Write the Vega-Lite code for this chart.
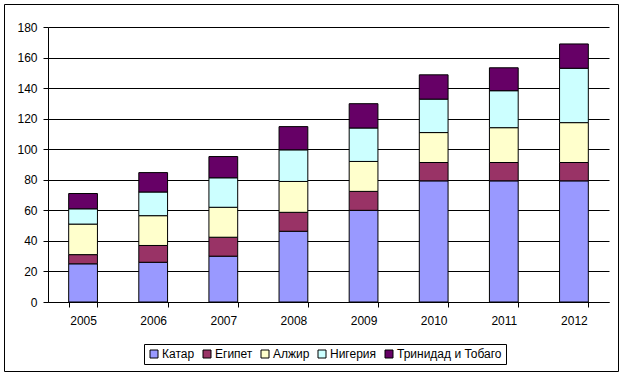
{
  "$schema": "https://vega.github.io/schema/vega-lite/v6.json",
  "width": 614,
  "height": 367,
  "autosize": "none",
  "padding": {"left": 4, "top": 4, "right": 2, "bottom": 7},
  "background": "white",
  "config": {
    "view": {"stroke": "black", "strokeWidth": 1},
    "font": "Liberation Sans"
  },
  "data": {
    "values": [
      {"year": "2005", "n": 1, "country": "Катар", "value": 25},
      {"year": "2005", "n": 2, "country": "Египет", "value": 6},
      {"year": "2005", "n": 3, "country": "Алжир", "value": 20},
      {"year": "2005", "n": 4, "country": "Нигерия", "value": 10},
      {"year": "2005", "n": 5, "country": "Тринидад и Тобаго", "value": 10},
      {"year": "2006", "n": 1, "country": "Катар", "value": 26},
      {"year": "2006", "n": 2, "country": "Египет", "value": 11},
      {"year": "2006", "n": 3, "country": "Алжир", "value": 19.5},
      {"year": "2006", "n": 4, "country": "Нигерия", "value": 15.5},
      {"year": "2006", "n": 5, "country": "Тринидад и Тобаго", "value": 12.7},
      {"year": "2007", "n": 1, "country": "Катар", "value": 30},
      {"year": "2007", "n": 2, "country": "Египет", "value": 12.4},
      {"year": "2007", "n": 3, "country": "Алжир", "value": 19.6},
      {"year": "2007", "n": 4, "country": "Нигерия", "value": 19.3},
      {"year": "2007", "n": 5, "country": "Тринидад и Тобаго", "value": 13.9},
      {"year": "2008", "n": 1, "country": "Катар", "value": 46.3},
      {"year": "2008", "n": 2, "country": "Египет", "value": 12.4},
      {"year": "2008", "n": 3, "country": "Алжир", "value": 20.2},
      {"year": "2008", "n": 4, "country": "Нигерия", "value": 20.7},
      {"year": "2008", "n": 5, "country": "Тринидад и Тобаго", "value": 15.2},
      {"year": "2009", "n": 1, "country": "Катар", "value": 60},
      {"year": "2009", "n": 2, "country": "Египет", "value": 12.4},
      {"year": "2009", "n": 3, "country": "Алжир", "value": 19.6},
      {"year": "2009", "n": 4, "country": "Нигерия", "value": 21.9},
      {"year": "2009", "n": 5, "country": "Тринидад и Тобаго", "value": 15.9},
      {"year": "2010", "n": 1, "country": "Катар", "value": 79.3},
      {"year": "2010", "n": 2, "country": "Египет", "value": 12},
      {"year": "2010", "n": 3, "country": "Алжир", "value": 19.6},
      {"year": "2010", "n": 4, "country": "Нигерия", "value": 21.9},
      {"year": "2010", "n": 5, "country": "Тринидад и Тобаго", "value": 15.9},
      {"year": "2011", "n": 1, "country": "Катар", "value": 79.3},
      {"year": "2011", "n": 2, "country": "Египет", "value": 12},
      {"year": "2011", "n": 3, "country": "Алжир", "value": 22.8},
      {"year": "2011", "n": 4, "country": "Нигерия", "value": 24.2},
      {"year": "2011", "n": 5, "country": "Тринидад и Тобаго", "value": 15},
      {"year": "2012", "n": 1, "country": "Катар", "value": 79.3},
      {"year": "2012", "n": 2, "country": "Египет", "value": 12},
      {"year": "2012", "n": 3, "country": "Алжир", "value": 26.1},
      {"year": "2012", "n": 4, "country": "Нигерия", "value": 35.6},
      {"year": "2012", "n": 5, "country": "Тринидад и Тобаго", "value": 15.9}
    ]
  },
  "mark": {"type": "bar", "stroke": "black", "strokeWidth": 1},
  "encoding": {
    "x": {
      "field": "year",
      "type": "ordinal",
      "scale": {"range": [44, 605], "paddingInner": 0.59, "paddingOuter": 0.295},
      "axis": {
        "title": null,
        "offset": -69,
        "labelAngle": 0,
        "labelFontSize": 12,
        "labelColor": "black",
        "labelPadding": 8,
        "tickSize": 5,
        "tickColor": "black",
        "tickBand": "extent",
        "domainColor": "black",
        "grid": false
      }
    },
    "y": {
      "field": "value",
      "type": "quantitative",
      "stack": "zero",
      "scale": {"domain": [0, 180], "range": [298, 23], "nice": false},
      "axis": {
        "title": null,
        "offset": -44,
        "values": [0, 20, 40, 60, 80, 100, 120, 140, 160, 180],
        "labelFontSize": 12,
        "labelColor": "black",
        "labelPadding": 6,
        "tickSize": 5,
        "tickColor": "black",
        "domainColor": "black",
        "gridColor": "black",
        "gridOpacity": 1
      }
    },
    "color": {
      "field": "country",
      "type": "nominal",
      "sort": ["Катар", "Египет", "Алжир", "Нигерия", "Тринидад и Тобаго"],
      "scale": {
        "domain": ["Катар", "Египет", "Алжир", "Нигерия", "Тринидад и Тобаго"],
        "range": ["#9999FF", "#993366", "#FFFFCC", "#CCFFFF", "#660066"]
      },
      "legend": {
        "title": null,
        "orient": "none",
        "legendX": 140,
        "legendY": 340,
        "direction": "horizontal",
        "strokeColor": "black",
        "padding": 4,
        "symbolType": "square",
        "symbolSize": 64,
        "symbolStrokeColor": "black",
        "symbolStrokeWidth": 1,
        "symbolOpacity": 1,
        "labelFontSize": 12,
        "labelColor": "black",
        "labelOffset": 2,
        "columnPadding": 6
      }
    },
    "order": {"field": "n", "type": "quantitative", "sort": "ascending"}
  }
}
